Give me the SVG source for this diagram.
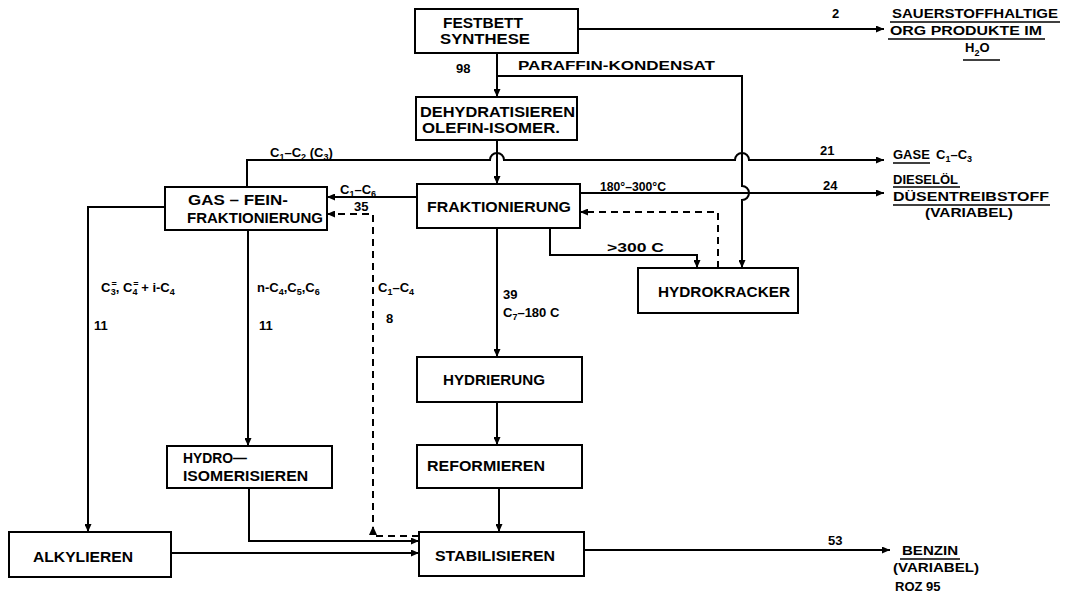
<svg xmlns="http://www.w3.org/2000/svg" width="1067" height="593" viewBox="0 0 1067 593">
<style>
.box{fill:#fff;stroke:#000;stroke-width:2}
.ln{fill:none;stroke:#000;stroke-width:2}
.dash{fill:none;stroke:#000;stroke-width:2;stroke-dasharray:7,5}
.arr{marker-end:url(#ah)}
text{font-family:"Liberation Sans",Arial,sans-serif;font-weight:bold;fill:#000}
.t{font-size:14px}
.l{font-size:13px}
.s{font-size:9px}
.ul{stroke:#000;stroke-width:1.5}
</style>
<defs>
<marker id="ah" markerWidth="8" markerHeight="7" refX="8" refY="3.5" orient="auto" markerUnits="userSpaceOnUse">
<path d="M0,0 L8,3.5 L0,7 z" fill="#000"/>
</marker>
</defs>
<rect width="1067" height="593" fill="#fff"/>

<g id="connectors">
<path class="ln arr" d="M578 29 H884"/>
<path class="ln arr" d="M497 53 V97"/>
<path class="ln arr" d="M497 76 H742 V186 A7 7 0 0 1 742 200 V268"/>
<path class="ln arr" d="M497 140 V184"/>
<path class="ln arr" d="M247 187 V160 H490 A7 7 0 0 1 504 160 H735 A7 7 0 0 1 749 160 H884"/>
<path class="ln arr" d="M580 193 H884"/>
<path class="ln arr" d="M417 197 H327"/>
<path class="dash arr" d="M718 268 V212 H580"/>
<path class="ln arr" d="M550 228 V255 H697 V268"/>
<path class="ln arr" d="M497 228 V357"/>
<path class="ln arr" d="M497 402 V445"/>
<path class="ln arr" d="M499 488 V532"/>
<path class="ln arr" d="M165 207 H88 V532"/>
<path class="ln arr" d="M248 230 V446"/>
<path class="ln arr" d="M249 488 V541 H419"/>
<path class="ln arr" d="M171 553 H419"/>
<path class="dash arr" d="M419 536 H373 V214 H327"/>
<path d="M373 526 L377 535 L369 535 z" fill="#000"/>
<path class="ln arr" d="M584 550 H890"/>
</g>

<g id="festbett">
<rect class="box" x="415" y="9" width="163" height="44"/>
<text class="t" x="443" y="28" textLength="80" lengthAdjust="spacingAndGlyphs">FESTBETT</text>
<text class="t" x="440" y="44" textLength="90" lengthAdjust="spacingAndGlyphs">SYNTHESE</text>
</g>

<g id="dehydratisieren">
<rect class="box" x="416" y="97" width="161" height="43"/>
<text class="t" x="420" y="117" textLength="155" lengthAdjust="spacingAndGlyphs">DEHYDRATISIEREN</text>
<text class="t" x="422" y="133" textLength="138" lengthAdjust="spacingAndGlyphs">OLEFIN-ISOMER.</text>
</g>

<g id="fraktionierung">
<rect class="box" x="417" y="184" width="163" height="44"/>
<text class="t" x="427" y="212" textLength="144" lengthAdjust="spacingAndGlyphs">FRAKTIONIERUNG</text>
</g>

<g id="gasfein">
<rect class="box" x="165" y="187" width="162" height="43"/>
<text class="t" x="188" y="205" textLength="100" lengthAdjust="spacingAndGlyphs">GAS – FEIN-</text>
<text class="t" x="187" y="223" textLength="136" lengthAdjust="spacingAndGlyphs">FRAKTIONIERUNG</text>
</g>

<g id="hydrokracker">
<rect class="box" x="638" y="268" width="160" height="45"/>
<text class="t" x="658" y="297" textLength="132" lengthAdjust="spacingAndGlyphs">HYDROKRACKER</text>
</g>

<g id="hydrierung">
<rect class="box" x="417" y="357" width="165" height="45"/>
<text class="t" x="443" y="385" textLength="102" lengthAdjust="spacingAndGlyphs">HYDRIERUNG</text>
</g>

<g id="reformieren">
<rect class="box" x="417" y="445" width="165" height="43"/>
<text class="t" x="427" y="471" textLength="118" lengthAdjust="spacingAndGlyphs">REFORMIEREN</text>
</g>

<g id="hydroisomerisieren">
<rect class="box" x="167" y="446" width="165" height="42"/>
<text class="t" x="183" y="463" textLength="64" lengthAdjust="spacingAndGlyphs">HYDRO—</text>
<text class="t" x="183" y="481" textLength="125" lengthAdjust="spacingAndGlyphs">ISOMERISIEREN</text>
</g>

<g id="alkylieren">
<rect class="box" x="9" y="532" width="162" height="45"/>
<text class="t" x="33" y="562" textLength="100" lengthAdjust="spacingAndGlyphs">ALKYLIEREN</text>
</g>

<g id="stabilisieren">
<rect class="box" x="419" y="532" width="165" height="44"/>
<text class="t" x="435" y="561" textLength="120" lengthAdjust="spacingAndGlyphs">STABILISIEREN</text>
</g>

<g id="labels">
<text class="l" x="456" y="73">98</text>
<text class="l" x="518" y="70" textLength="197" lengthAdjust="spacingAndGlyphs">PARAFFIN-KONDENSAT</text>
<text class="l" x="832" y="18">2</text>

<text class="l" x="892" y="18" textLength="166" lengthAdjust="spacingAndGlyphs">SAUERSTOFFHALTIGE</text>
<line class="ul" x1="890" y1="22" x2="1060" y2="22"/>
<text class="l" x="890" y="35" textLength="152" lengthAdjust="spacingAndGlyphs">ORG PRODUKTE IM</text>
<line class="ul" x1="888" y1="39" x2="1045" y2="39"/>
<text class="l" x="965" y="52">H<tspan class="s" dy="4">2</tspan><tspan dy="-4">O</tspan></text>
<line class="ul" x1="963" y1="60" x2="1000" y2="60"/>

<text class="l" x="270" y="157">C<tspan class="s" dy="3">1</tspan><tspan dy="-3">–C</tspan><tspan class="s" dy="3">2</tspan><tspan dy="-3"> (C</tspan><tspan class="s" dy="3">3</tspan><tspan dy="-3">)</tspan></text>
<text class="l" x="820" y="155">21</text>
<text class="l" x="893" y="159">GASE</text>
<line class="ul" x1="893" y1="163" x2="930" y2="163"/>
<text class="l" x="936" y="159">C<tspan class="s" dy="3">1</tspan><tspan dy="-3">–C</tspan><tspan class="s" dy="3">3</tspan></text>

<text class="l" x="600" y="191" textLength="66" lengthAdjust="spacingAndGlyphs">180°–300°C</text>
<text class="l" x="823" y="190">24</text>
<text class="l" x="893" y="184" style="font-size:13px">DIESELÖL</text>
<line class="ul" x1="893" y1="187" x2="960" y2="187"/>
<text class="l" x="893" y="201" textLength="156" lengthAdjust="spacingAndGlyphs">DÜSENTREIBSTOFF</text>
<line class="ul" x1="893" y1="205" x2="1050" y2="205"/>
<text class="l" x="925" y="217" textLength="88" lengthAdjust="spacingAndGlyphs">(VARIABEL)</text>

<text class="l" x="340" y="194">C<tspan class="s" dy="3">1</tspan><tspan dy="-3">–C</tspan><tspan class="s" dy="3">6</tspan></text>
<text class="l" x="354" y="211">35</text>

<text class="l" x="607" y="252" textLength="57" lengthAdjust="spacingAndGlyphs">&gt;300 C</text>

<text class="l" x="101" y="292">C<tspan class="s" dx="1" dy="-5">=</tspan><tspan class="s" dx="-6" dy="8">3</tspan><tspan dy="-3">, C</tspan><tspan class="s" dx="1" dy="-5">=</tspan><tspan class="s" dx="-6" dy="8">4</tspan><tspan dy="-3"> + i-C</tspan><tspan class="s" dy="3">4</tspan></text>
<text class="l" x="94" y="330">11</text>
<text class="l" x="257" y="292">n-C<tspan class="s" dy="3">4</tspan><tspan dy="-3">,C</tspan><tspan class="s" dy="3">5</tspan><tspan dy="-3">,C</tspan><tspan class="s" dy="3">6</tspan></text>
<text class="l" x="259" y="330">11</text>
<text class="l" x="378" y="292">C<tspan class="s" dy="3">1</tspan><tspan dy="-3">–C</tspan><tspan class="s" dy="3">4</tspan></text>
<text class="l" x="386" y="323">8</text>

<text class="l" x="503" y="299">39</text>
<text class="l" x="503" y="317">C<tspan class="s" dy="3">7</tspan><tspan dy="-3">–180 C</tspan></text>

<text class="l" x="828" y="545">53</text>
<text class="l" x="902" y="555" textLength="56" lengthAdjust="spacingAndGlyphs">BENZIN</text>
<line class="ul" x1="900" y1="559" x2="960" y2="559"/>
<text class="l" x="893" y="572" textLength="86" lengthAdjust="spacingAndGlyphs">(VARIABEL)</text>
<text class="l" x="895" y="591">ROZ 95</text>
</g>
</svg>
